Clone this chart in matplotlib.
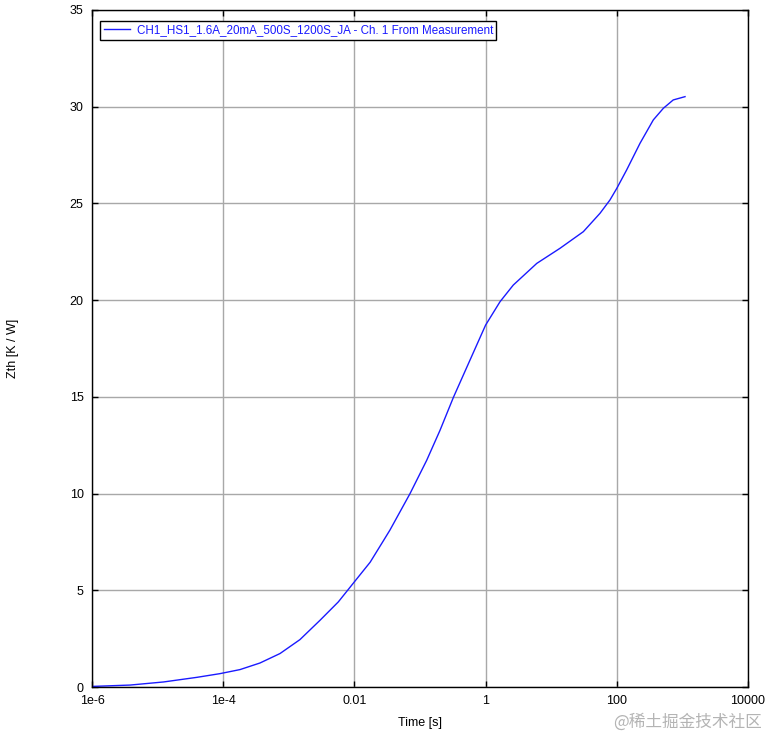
import matplotlib
matplotlib.use("Agg")
import matplotlib.pyplot as plt
import numpy as np

# values (log10 of time, Zth in K/W)
log_t = [-6.0, -5.83, -5.42, -4.91, -4.40, -4.05, -3.744, -3.44, -3.134, -2.83,
         -2.524, -2.245, -1.99, -1.76, -1.56, -1.457, -1.152, -0.898, -0.695, -0.49,
         -0.238, 0.0, 0.22, 0.422, 0.78, 1.134, 1.49, 1.744, 1.896, 2.0,
         2.15, 2.354, 2.557, 2.71, 2.86, 3.04]
zth = [0.03, 0.05, 0.10, 0.26, 0.50, 0.69, 0.90, 1.24, 1.73, 2.45,
       3.45, 4.40, 5.48, 6.45, 7.55, 8.12, 10.0, 11.72, 13.27, 14.98,
       16.9, 18.71, 19.92, 20.78, 21.9, 22.68, 23.54, 24.49, 25.18, 25.78,
       26.73, 28.11, 29.32, 29.92, 30.35, 30.52]
t = 10.0 ** np.array(log_t)

xticks = [1e-6, 1e-4, 1e-2, 1, 100, 10000]
xtick_labels = ["1e-6", "1e-4", "0.01", "1", "100", "10000"]
yticks = [0, 5, 10, 15, 20, 25, 30, 35]
series_name = "CH1_HS1_1.6A_20mA_500S_1200S_JA - Ch. 1 From Measurement"

plt.rcParams['font.family'] = ['Liberation Sans', 'DejaVu Sans']

fig = plt.figure(figsize=(7.68, 7.37), dpi=100)
ax = fig.add_axes([92/768, 50/737, 656/768, 677/737])

ax.plot(t, zth, color='#1a1aff', lw=1.0, label=series_name)

ax.set_xscale('log')
ax.set_xlim(1e-6, 1e4)
ax.set_ylim(0, 35)
ax.set_xticks(xticks)
ax.set_xticklabels(xtick_labels)
ax.xaxis.set_minor_locator(matplotlib.ticker.NullLocator())
ax.set_yticks(yticks)
ax.grid(True, color='#a8a8a8', lw=1.0)
ax.set_axisbelow(True)
ax.tick_params(direction='in', length=4, width=1, top=True, right=True,
               labelsize=9, colors='black', pad=6)
for s in ax.spines.values():
    s.set_linewidth(1.0)
    s.set_color('black')

ax.set_xlabel("Time [s]", fontsize=9, labelpad=7)
ax.set_ylabel("Zth [K / W]", fontsize=9)
ax.yaxis.set_label_coords(-0.112, 0.5)

leg = ax.legend(loc='upper left', bbox_to_anchor=(0.004, 0.993), fontsize=8.4,
                fancybox=False, framealpha=1, edgecolor='black',
                handlelength=2.2, borderpad=0.3, handletextpad=0.6)
leg.get_frame().set_linewidth(1.0)
for txt in leg.get_texts():
    txt.set_color('#1a1aff')

fig.text(0.992, 0.02, "@稀土掘金技术社区", ha='right', va='center', fontsize=12,
         color='#b4b4b4', family=['Noto Sans CJK SC', 'DejaVu Sans'])

fig.savefig("out.png", dpi=100)
